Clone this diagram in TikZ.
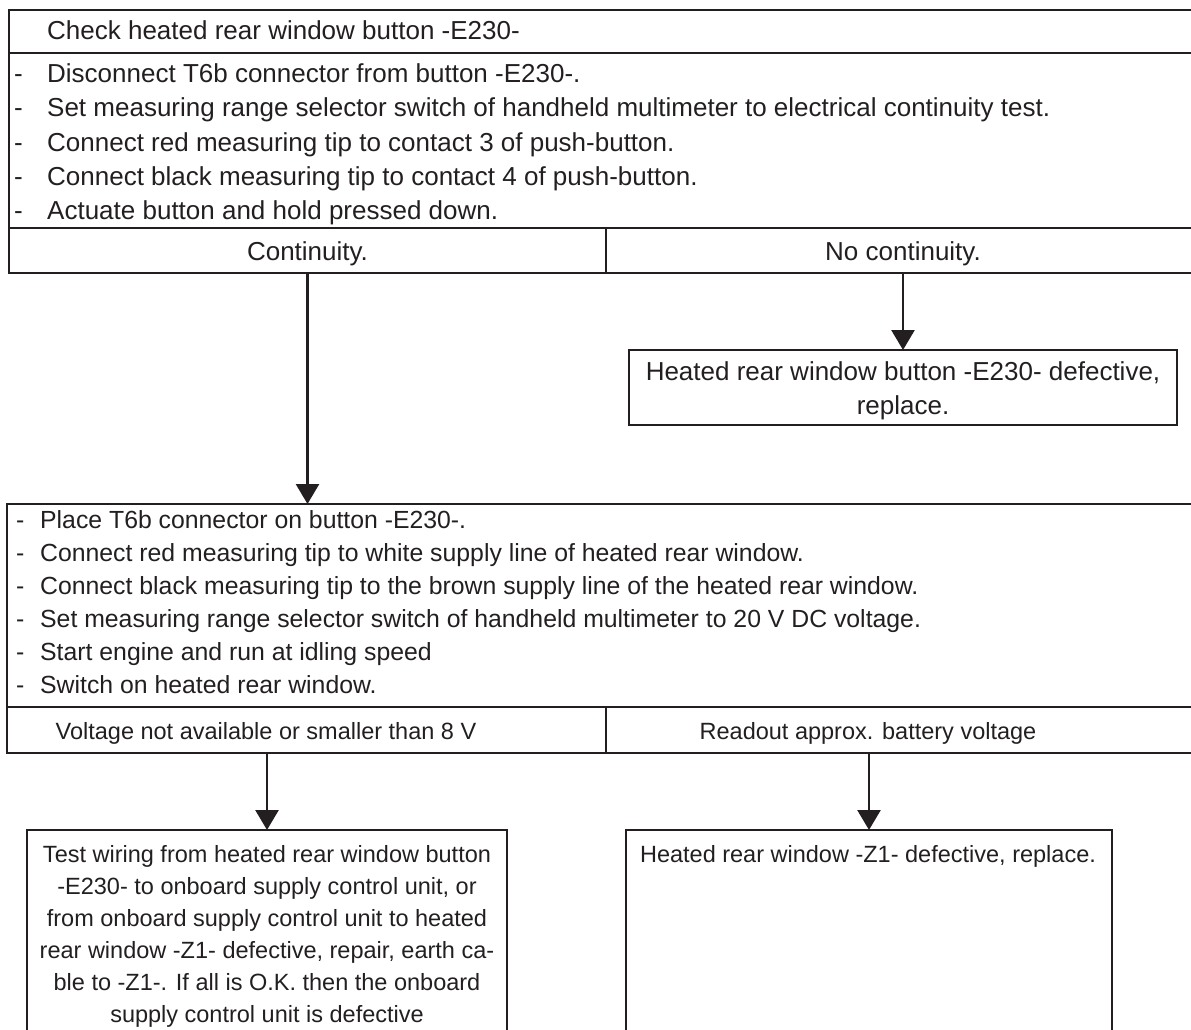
\documentclass[tikz,border=0pt]{standalone}
\usepackage{fontspec}
\setmainfont{Liberation Sans}
\usetikzlibrary{arrows.meta}
\definecolor{ink}{RGB}{35,31,32}
\begin{document}
\begin{tikzpicture}[x=1pt,y=-1pt,
  frame/.style={draw=ink, line width=2.6pt, inner sep=0pt, outer sep=0pt, rectangle, anchor=north west},
  txt/.style={inner sep=0pt, text=ink},
  ttop/.style={txt, font=\fontsize{26}{30}\selectfont},
  tmid/.style={txt, font=\fontsize{24.8}{30}\selectfont},
  tbot/.style={txt, font=\fontsize{23.5}{28}\selectfont},
  flow/.style={draw=ink, line width=2.6pt, -{Triangle[width=23pt,length=20pt]}}]
\path[use as bounding box] (0,0) rectangle (1191,1030);
\clip (0,0) rectangle (1191,1030);
% top block
\node[frame, minimum width=1191pt, minimum height=43pt] (hd1) at (9,10) {};
\node[frame, minimum width=1191pt, minimum height=175pt] (bd1) at (9,53) {};
\node[frame, minimum width=597pt, minimum height=45pt] (c1) at (9,228) {};
\node[frame, minimum width=594pt, minimum height=45pt] (c2) at (606,228) {};
\node[ttop, anchor=base west] (t0) at (47,40) {Check heated rear window button -E230-};
\foreach \t [count=\i] in {{Disconnect T6b connector from button -E230-.},
  {Set measuring range selector switch of handheld multimeter to electrical continuity test.},
  {Connect red measuring tip to contact 3 of push-button.},
  {Connect black measuring tip to contact 4 of push-button.},
  {Actuate button and hold pressed down.}}
  \node[ttop, anchor=base west] (a\i) at (14,49+34*\i) {\makebox[33pt][l]{-}\t};
\node[ttop, anchor=base] (tc1) at (307.5,260) {Continuity.};
\node[ttop, anchor=base] (tc2) at (903,260) {No continuity.};
% defective button box
\node[frame, minimum width=548pt, minimum height=75pt] (b2) at (629,350) {};
\node[ttop, anchor=base] (t2a) at (903,380) {Heated rear window button -E230- defective,};
\node[ttop, anchor=base] (t2b) at (903,414) {replace.};
% second block
\node[frame, minimum width=1193pt, minimum height=203pt] (bd3) at (7,504) {};
\node[frame, minimum width=599pt, minimum height=46pt] (v1) at (7,707) {};
\node[frame, minimum width=594pt, minimum height=46pt] (v2) at (606,707) {};
\foreach \t [count=\i] in {{Place T6b connector on button -E230-.},
  {Connect red measuring tip to white supply line of heated rear window.},
  {Connect black measuring tip to the brown supply line of the heated rear window.},
  {Set measuring range selector switch of handheld multimeter to 20 V DC voltage.},
  {Start engine and run at idling speed},
  {Switch on heated rear window.}}
  \node[tmid, anchor=base west] (p\i) at (16,495+33*\i) {\makebox[24pt][l]{-}\t};
\node[tbot, anchor=base] (tv1) at (266,739) {Voltage not available or smaller than 8 V};
\node[tbot, anchor=base] (tv2) at (868,739) {Readout approx. battery voltage};
% bottom boxes
\node[frame, minimum width=480pt, minimum height=220pt] (b4) at (27,830) {};
\node[frame, minimum width=486pt, minimum height=220pt] (b5) at (626,830) {};
\foreach \t [count=\i] in {{Test wiring from heated rear window button},
  {-E230- to onboard supply control unit, or},
  {from onboard supply control unit to heated},
  {rear window -Z1- defective, repair, earth ca-},
  {ble to -Z1-. If all is O.K. then the onboard},
  {supply control unit is defective}}
  \node[tbot, anchor=base] (q\i) at (267,830+32*\i) {\t};
\node[tbot, anchor=base] (t5) at (868,862) {Heated rear window -Z1- defective, replace.};
% connectors
\draw[flow] (c1.south) -- (c1.south |- bd3.north);
\draw[flow] (c2.south) -- (b2.north);
\draw[flow] (b4.north |- v1.south) -- (b4.north);
\draw[flow] (b5.north |- v2.south) -- (b5.north);
\end{tikzpicture}
\end{document}
